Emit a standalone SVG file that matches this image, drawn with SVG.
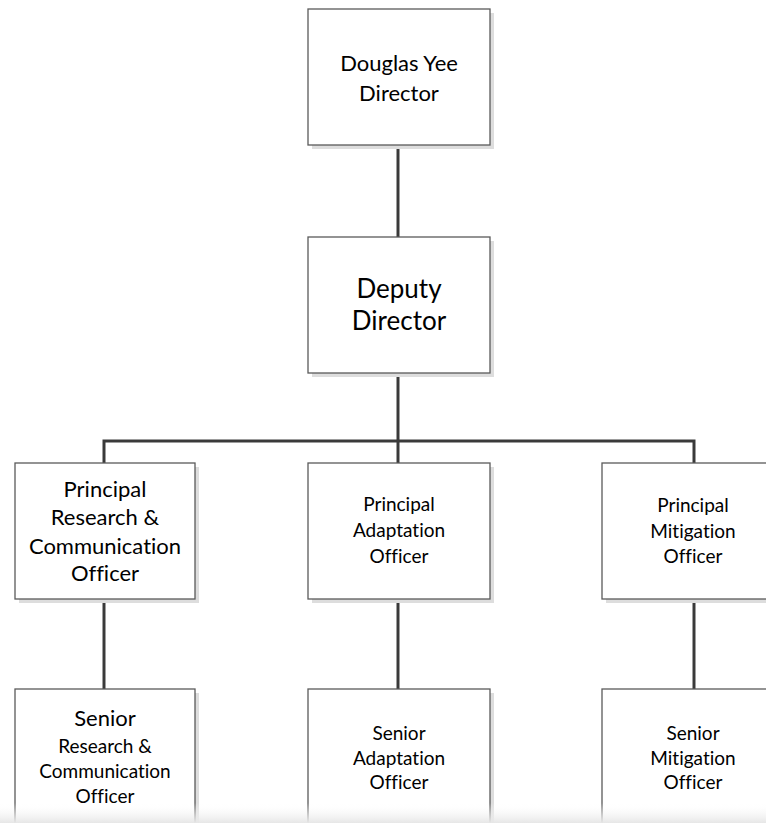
<svg xmlns="http://www.w3.org/2000/svg" width="766" height="823" viewBox="0 0 766 823">
  <defs>
    <linearGradient id="pageFade" x1="0" y1="0" x2="0" y2="1">
      <stop offset="0" stop-color="#ffffff" stop-opacity="0"/>
      <stop offset="1" stop-color="#e6e6e6" stop-opacity="1"/>
    </linearGradient>
  </defs>
  <style>
    .shadow { fill: #dddddd; }
    .box { fill: #ffffff; stroke: #5a5a5a; stroke-width: 1.3; }
    .link { fill: none; stroke: #3a3a3a; stroke-width: 3; }
    text { font-family: Lato, "Open Sans", "Liberation Sans", sans-serif; fill: #000000; text-anchor: middle; font-variant-ligatures: none; }
    .t22 { font-size: 22px; }
    .t25 { font-size: 26px; }
    .t18 { font-size: 19px; }
  </style>

  <rect x="0" y="0" width="766" height="823" fill="#ffffff"/>

  <!-- reporting lines -->
  <g id="connectors">
    <line class="link" x1="398" y1="145" x2="398" y2="237"/>
    <line class="link" x1="398" y1="373" x2="398" y2="463"/>
    <polyline class="link" points="104,463 104,441 694,441 694,463"/>
    <line class="link" x1="104" y1="599" x2="104" y2="689"/>
    <line class="link" x1="398" y1="599" x2="398" y2="689"/>
    <line class="link" x1="694" y1="599" x2="694" y2="689"/>
  </g>

  <g id="director">
    <rect class="shadow" x="312" y="13" width="182" height="136"/>
    <rect class="box" x="308" y="9" width="182" height="136"/>
    <text class="t22" x="399" y="71">Douglas Yee</text>
    <text class="t22" x="399" y="101">Director</text>
  </g>

  <g id="deputy-director">
    <rect class="shadow" x="312" y="241" width="182" height="136"/>
    <rect class="box" x="308" y="237" width="182" height="136"/>
    <text class="t25" x="399" y="298">Deputy</text>
    <text class="t25" x="399" y="330">Director</text>
  </g>

  <g id="principal-research">
    <rect class="shadow" x="19" y="467" width="180" height="136"/>
    <rect class="box" x="15" y="463" width="180" height="136"/>
    <text class="t22" x="105" y="497">Principal</text>
    <text class="t22" x="105" y="525">Research &amp;</text>
    <text class="t22" x="105" y="554">Communication</text>
    <text class="t22" x="105" y="581">Officer</text>
  </g>

  <g id="principal-adaptation">
    <rect class="shadow" x="312" y="467" width="182" height="136"/>
    <rect class="box" x="308" y="463" width="182" height="136"/>
    <text class="t18" x="399" y="511">Principal</text>
    <text class="t18" x="399" y="537">Adaptation</text>
    <text class="t18" x="399" y="563">Officer</text>
  </g>

  <g id="principal-mitigation">
    <rect class="shadow" x="606" y="467" width="182" height="136"/>
    <rect class="box" x="602" y="463" width="182" height="136"/>
    <text class="t18" x="693" y="512">Principal</text>
    <text class="t18" x="693" y="538">Mitigation</text>
    <text class="t18" x="693" y="563">Officer</text>
  </g>

  <g id="senior-research">
    <rect class="shadow" x="19" y="693" width="180" height="150"/>
    <rect class="box" x="15" y="689" width="180" height="150"/>
    <text class="t22" x="105" y="726">Senior</text>
    <text class="t18" x="105" y="753">Research &amp;</text>
    <text class="t18" x="105" y="778">Communication</text>
    <text class="t18" x="105" y="803">Officer</text>
  </g>

  <g id="senior-adaptation">
    <rect class="shadow" x="312" y="693" width="182" height="150"/>
    <rect class="box" x="308" y="689" width="182" height="150"/>
    <text class="t18" x="399" y="740">Senior</text>
    <text class="t18" x="399" y="765">Adaptation</text>
    <text class="t18" x="399" y="789">Officer</text>
  </g>

  <g id="senior-mitigation">
    <rect class="shadow" x="606" y="693" width="182" height="150"/>
    <rect class="box" x="602" y="689" width="182" height="150"/>
    <text class="t18" x="693" y="740">Senior</text>
    <text class="t18" x="693" y="765">Mitigation</text>
    <text class="t18" x="693" y="789">Officer</text>
  </g>

  <!-- soft fade along the lower page edge -->
  <rect x="0" y="803" width="766" height="20" fill="url(#pageFade)"/>
</svg>
